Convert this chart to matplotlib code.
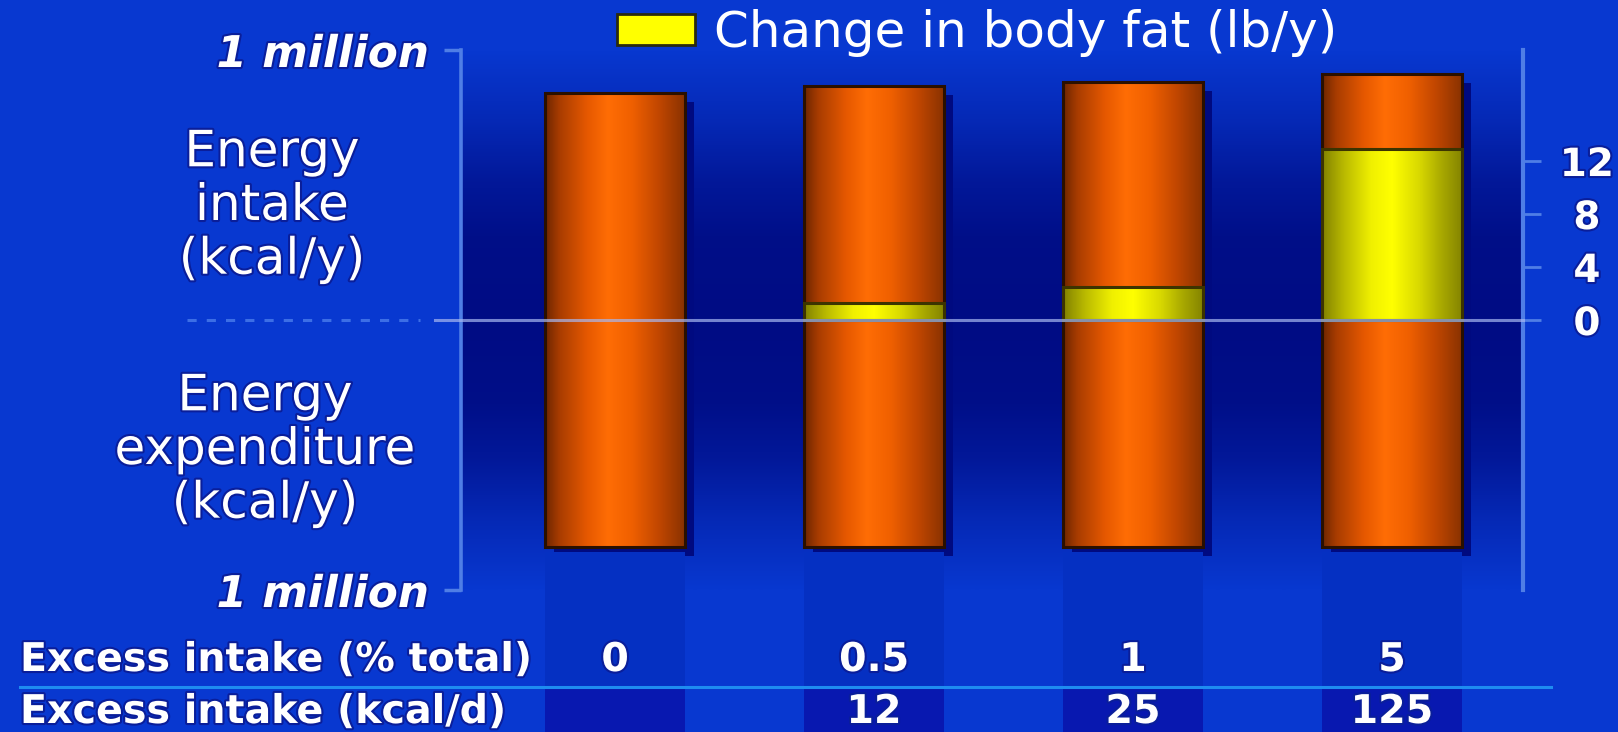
import numpy as np
import matplotlib
matplotlib.use("Agg")
import matplotlib.pyplot as plt
from matplotlib import transforms
from matplotlib.colors import LinearSegmentedColormap, to_rgb
from matplotlib.patches import Patch
from matplotlib.lines import Line2D
import matplotlib.patheffects as pe

# values
excess_pct = ["0", "0.5", "1", "5"]
excess_kcal = ["", "12", "25", "125"]
intake = [0.84, 0.865, 0.88, 0.91]          # million kcal/y (above the line)
expenditure = [0.84, 0.84, 0.84, 0.84]      # million kcal/y (below the line)
fat_gain = [0, 1.3, 2.5, 12.9]              # lb/y
fat_ticks = [0, 4, 8, 12]

W, H = 1618, 732
BG = "#0838d0"
NAVY = "#000c84"
AXIS_BLUE = "#4f7ee6"
halo = [pe.withStroke(linewidth=3, foreground="#0a1e9a")]

fig = plt.figure(figsize=(W / 100, H / 100), dpi=100, facecolor=BG)


def box(x0, y0, x1, y1):
    # pixel box measured from the top-left -> figure fraction
    return [x0 / W, 1 - y1 / H, (x1 - x0) / W, (y1 - y0) / H]


ax = fig.add_axes(box(461, 50, 1523, 590))
ax.set_facecolor(BG)

# dark band behind the bars, fading away from the zero line
yy = np.linspace(50, 590, 300)
wgt = np.interp(np.abs(yy - 320), [0, 80, 140, 200, 270], [1, 0.95, 0.72, 0.35, 0])
band = (1 - wgt)[:, None] * np.array(to_rgb(BG)) + wgt[:, None] * np.array(to_rgb(NAVY))
ax.imshow(band[:, None, :], extent=[0, 1, 0, 1], transform=ax.transAxes,
          aspect="auto", zorder=0, interpolation="bilinear")

x = np.arange(len(intake))
bw = 0.54
inta = np.array(intake)
expd = np.array(expenditure)

# drop shadow
shadow_tr = transforms.offset_copy(ax.transData, fig=fig, x=9, y=-9, units="dots")
ax.bar(x, inta + expd, bottom=-expd, width=bw, color="#000a80",
       transform=shadow_tr, zorder=1)

# darker columns under the bars in the table area
col_tr = transforms.blended_transform_factory(ax.transData, ax.transAxes)
ax.bar(x, [-0.25] * 4, bottom=0.07, width=bw, color="#0530c2",
       transform=col_tr, clip_on=False, zorder=1)
ax.bar(x, [-0.09] * 4, bottom=-0.18, width=bw, color="#0818b0",
       transform=col_tr, clip_on=False, zorder=1)

# shaded cylinders
orange_cm = LinearSegmentedColormap.from_list(
    "cyl_o", [(0, "#6e2600"), (0.1, "#a83c00"), (0.3, "#e65800"), (0.45, "#ff6d05"),
              (0.62, "#f06000"), (0.82, "#c04600"), (1, "#8a3200")])
yellow_cm = LinearSegmentedColormap.from_list(
    "cyl_y", [(0, "#828200"), (0.15, "#b8b800"), (0.35, "#f0f000"), (0.5, "#ffff00"),
              (0.7, "#d8d800"), (0.85, "#abab00"), (1, "#858500")])
shade = np.linspace(0, 1, 200)[None, :]

cols = ax.bar(x, inta + expd, bottom=-expd, width=bw, facecolor="none",
              edgecolor="#2a1000", linewidth=2.2, zorder=3)
for p in cols:
    im = ax.imshow(shade, cmap=orange_cm, aspect="auto", zorder=2,
                   extent=[p.get_x(), p.get_x() + p.get_width(),
                           p.get_y(), p.get_y() + p.get_height()])
    im.set_clip_path(p)

ax.set_xlim(-0.595, 3.506)
ax.set_ylim(-1, 1)
for s in ["top", "right", "bottom"]:
    ax.spines[s].set_visible(False)
ax.spines["left"].set_color(AXIS_BLUE)
ax.spines["left"].set_linewidth(2.6)
ax.set_xticks([])
ax.set_yticks([-1, 1])
ax.set_yticklabels(["1 million", "1 million"])
ax.tick_params(axis="y", length=12, width=2.5, color=AXIS_BLUE, pad=11,
               labelsize=31.5, labelcolor="white")
for t in ax.get_yticklabels():
    t.set_fontstyle("italic")
    t.set_fontweight("bold")
    t.set_path_effects(halo)

# body fat on the right-hand scale
ax2 = ax.twinx()
fat_bars = ax2.bar(x, fat_gain, width=bw, facecolor="none", edgecolor="#3c3400",
                   linewidth=2.2, zorder=3)
for p, v in zip(fat_bars, fat_gain):
    if v == 0:
        p.set_visible(False)
        continue
    im = ax2.imshow(shade, cmap=yellow_cm, aspect="auto", zorder=2,
                    extent=[p.get_x(), p.get_x() + p.get_width(),
                            p.get_y(), p.get_y() + p.get_height()])
    im.set_clip_path(p)

ax2.axhline(0, xmin=-0.0245, xmax=1.0, color="#a8b8f0", alpha=0.7, lw=2.2,
            clip_on=False, zorder=5)
ax2.axhline(0, xmin=-0.258, xmax=-0.0386, color="#3c6ee6", lw=2.2,
            dashes=(3, 3.3), clip_on=False, zorder=5)

ax2.set_xlim(-0.595, 3.506)
ax2.set_ylim(-20.38, 20.38)
for s in ["top", "left", "bottom"]:
    ax2.spines[s].set_visible(False)
ax2.spines["right"].set_color(AXIS_BLUE)
ax2.spines["right"].set_linewidth(3)
ax2.set_yticks(fat_ticks)
ax2.tick_params(axis="y", length=13, width=2, color=AXIS_BLUE, pad=33,
                labelsize=28, labelcolor="white")
for t in ax2.get_yticklabels():
    t.set_fontweight("bold")
    t.set_horizontalalignment("center")
    t.set_path_effects(halo)

# side labels
fig.text(272 / W, 1 - 206 / H, "Energy\nintake\n(kcal/y)", ha="center", va="center",
         fontsize=36, color="white", linespacing=1.15, path_effects=halo)
fig.text(265 / W, 1 - 450 / H, "Energy\nexpenditure\n(kcal/y)", ha="center", va="center",
         fontsize=36, color="white", linespacing=1.15, path_effects=halo)

# legend
fig.legend(handles=[Patch(facecolor="#ffff00", edgecolor="#2a2a10", linewidth=2)],
           labels=["Change in body fat (lb/y)"], loc="center left",
           bbox_to_anchor=(617 / W, 1 - 33 / H), frameon=False, fontsize=36,
           handlelength=1.55, handleheight=0.6, handletextpad=0.4,
           borderpad=0, borderaxespad=0, labelcolor="white")

# table under the chart
fig.add_artist(Line2D([20 / W, 1551 / W], [1 - 687 / H] * 2, transform=fig.transFigure,
                      color="#1e8cf0", lw=2.2))
row_tr = transforms.blended_transform_factory(ax.transData, fig.transFigure)
rows = [("Excess intake (% total)", excess_pct, 671), ("Excess intake (kcal/d)", excess_kcal, 723)]
for label, vals, base in rows:
    fig.text(20 / W, 1 - base / H, label, ha="left", va="baseline", fontsize=28.5,
             fontweight="bold", color="white", path_effects=halo)
    for xi, v in zip(x, vals):
        ax.text(xi, 1 - base / H, v, transform=row_tr, ha="center", va="baseline",
                fontsize=28.5, fontweight="bold", color="white", path_effects=halo)

fig.savefig("out.png", dpi=100, facecolor=BG)
